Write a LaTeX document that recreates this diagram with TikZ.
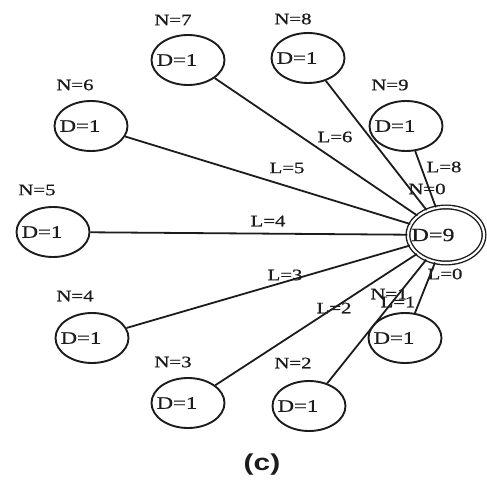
\documentclass[tikz,border=0pt]{standalone}
\usepackage{fontspec}
\setmainfont{Liberation Serif}
\newfontfamily\lblfont[FakeStretch=1.3,FakeBold=0.8]{Liberation Serif}
\newfontfamily\capfont[FakeStretch=1.3]{Liberation Sans}
\usetikzlibrary{shapes.geometric}
\definecolor{ink}{HTML}{1C1C1C}

\begin{document}
\begin{tikzpicture}[x=1pt,y=-1pt,
  peer/.style={ellipse, draw=ink, line width=1.9pt, minimum width=73pt,
    minimum height=50pt, inner sep=0pt, text=ink,
    font=\lblfont\fontsize{17.5}{18}\selectfont,
    execute at begin node=\hspace*{-22pt}},
  hub/.style={ellipse, draw=ink, double=white, line width=1.4pt,
    double distance=2.2pt, minimum width=76pt, minimum height=56pt,
    inner sep=0pt, text=ink, font=\lblfont\fontsize{18.5}{18}\selectfont,
    execute at begin node=\hspace*{-26pt}},
  tag/.style={inner sep=0pt, text=ink, font=\lblfont\fontsize{16}{16}\selectfont},
  link/.style={draw=ink, line width=1.8pt}]

\useasboundingbox (0,0) rectangle (487,484);

% central node and its neighbours
\node[hub]  (n0) at (446,235) {D=9};
\node[peer] (n1) at (405,338) {D=1};
\node[peer] (n2) at (309,406) {D=1};
\node[peer] (n3) at (188,403) {D=1};
\node[peer] (n4) at (92,338)  {D=1};
\node[peer] (n5) at (53,232)  {D=1};
\node[peer] (n6) at (91,126)  {D=1};
\node[peer] (n7) at (188,60)  {D=1};
\node[peer] (n8) at (308,58)  {D=1};
\node[peer] (n9) at (406,126) {D=1};

% links to the central node
\foreach \k in {1,...,9} \draw[link] (n\k) -- (n0);

% node numbers
\node[tag] (t0) at (427,189) {N=0};
\node[tag] (t1) at (389,294) {N=1};
\node[tag] (t2) at (293,363) {N=2};
\node[tag] (t3) at (173,362) {N=3};
\node[tag] (t4) at (75,296)  {N=4};
\node[tag] (t5) at (37,190)  {N=5};
\node[tag] (t6) at (75,85)   {N=6};
\node[tag] (t7) at (173,20)  {N=7};
\node[tag] (t8) at (293,19)  {N=8};
\node[tag] (t9) at (390,85)  {N=9};

% link labels
\node[tag] (l0) at (445,274) {L=0};
\node[tag] (l1) at (398,302) {L=1};
\node[tag] (l2) at (334,308) {L=2};
\node[tag] (l3) at (285,275) {L=3};
\node[tag] (l4) at (268,221) {L=4};
\node[tag] (l5) at (287,168) {L=5};
\node[tag] (l6) at (335,137) {L=6};
\node[tag] (l8) at (444,167) {L=8};

% caption
\node[inner sep=0pt, text=ink, font=\capfont\bfseries\fontsize{23}{23}\selectfont]
  (cap) at (262,465) {(c)};
\end{tikzpicture}
\end{document}
